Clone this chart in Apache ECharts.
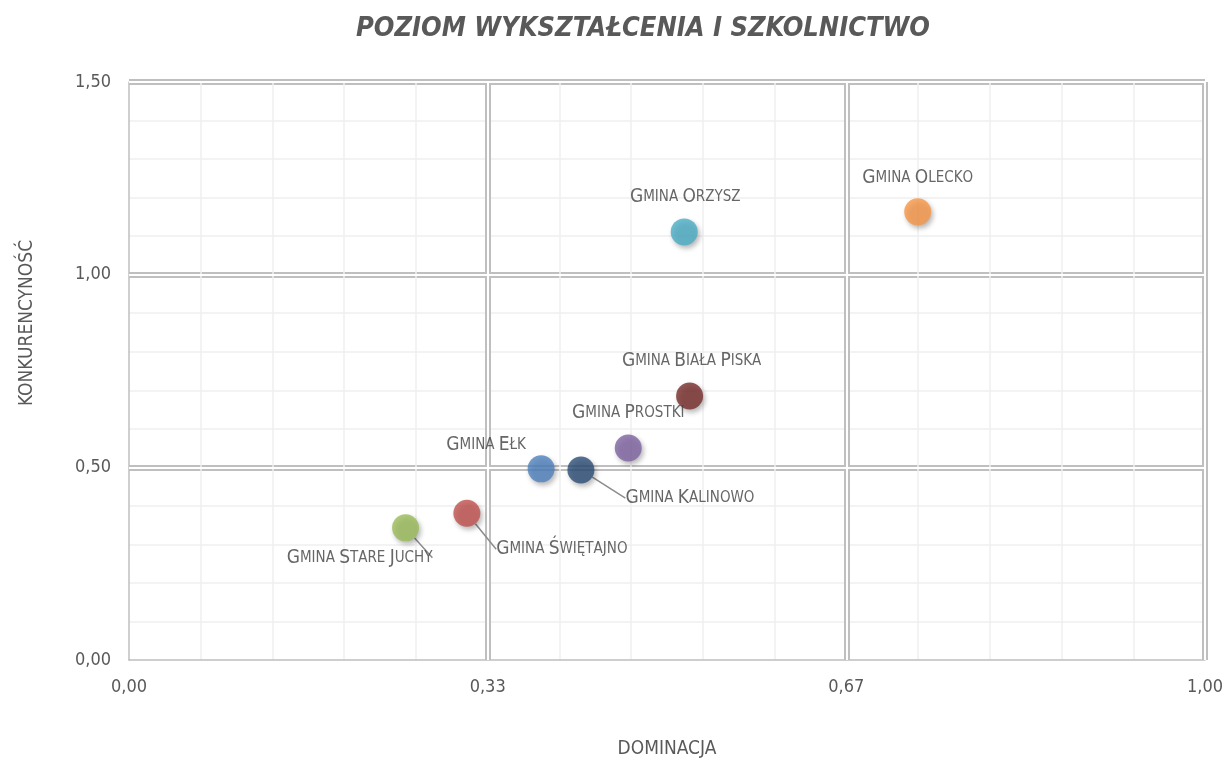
<!DOCTYPE html>
<html lang="pl">
<head>
<meta charset="UTF-8">
<title>Poziom wykształcenia i szkolnictwo</title>
<style>
    html, body { margin: 0; padding: 0; background: #fff; }
    #chart { width: 1225px; height: 761px; }
</style>
</head>
<body>
<div id="chart"></div>
<script src="https://cdn.jsdelivr.net/npm/echarts@6/dist/echarts.min.js"></script>
<script>
// dane
var gminy = ['Gmina Olecko', 'Gmina Orzysz', 'Gmina Biała Piska', 'Gmina Prostki',
             'Gmina Ełk', 'Gmina Kalinowo', 'Gmina Świętajno', 'Gmina Stare Juchy'];
var dominacja = [0.733, 0.516, 0.521, 0.464, 0.383, 0.420, 0.314, 0.257];
var konkurencyjnosc = [1.163, 1.111, 0.685, 0.550, 0.496, 0.493, 0.381, 0.343];

// wygląd
var kolory = ['#F79646', '#4BACC6', '#772C2A', '#8064A2', '#4F81BD', '#2C4D75', '#C0504D', '#9BBB59'];
var przesuniecia = [[0, -34], [1, -35], [2, -35], [0, -35], [-55, -24], [109, 28], [95, 36], [-46, 30]];
var zLinia = [false, false, false, false, false, true, true, true];

var FONT = "'Liberation Sans Narrow', 'DejaVu Sans Condensed', 'Arial Narrow', sans-serif";
var SZARY = '#595959';

function kapitaliki(txt) {
    var out = '';
    for (var i = 0; i < txt.length; i++) {
        var c = txt[i];
        if (c === ' ') { out += '{b| }'; continue; }
        if (c === c.toUpperCase()) out += '{a|' + c + '}';
        else out += '{b|' + c.toUpperCase() + '}';
    }
    return out;
}

function fmt(v) {
    return v.toFixed(2).replace('.', ',');
}

var dane = [];
for (var i = 0; i < gminy.length; i++) {
    dane.push({
        name: gminy[i],
        value: [dominacja[i], konkurencyjnosc[i]],
        itemStyle: { color: kolory[i] },
        labelLine: { show: zLinia[i] }
    });
}

var myChart = echarts.init(document.getElementById('chart'));

function osX(overlay) {
    return {
        type: 'value', min: 0, max: 1, interval: 1 / 3,
        z: overlay ? 1 : 0,
        axisLine: { show: !overlay, lineStyle: { color: '#BFBFBF', width: 1.5 } },
        axisTick: { show: false },
        axisLabel: {
            show: !overlay, margin: 18, color: SZARY, fontSize: 18, fontFamily: FONT,
            formatter: function (v) { return fmt(v); }
        },
        name: overlay ? '' : 'DOMINACJA',
        nameLocation: 'middle', nameGap: 80,
        nameTextStyle: { color: SZARY, fontSize: 19, fontFamily: FONT },
        splitLine: {
            show: true, showMinLine: false, showMaxLine: true,
            lineStyle: { color: overlay ? '#ffffff' : '#BFBFBF', width: overlay ? 2 : 6 }
        },
        minorTick: { show: !overlay, splitNumber: 5, length: 0 },
        minorSplitLine: { show: !overlay, lineStyle: { color: '#EFEFEF', width: 1.5 } }
    };
}

function osY(overlay) {
    return {
        type: 'value', min: 0, max: 1.5, interval: 0.5,
        z: overlay ? 1 : 0,
        axisLine: { show: !overlay, lineStyle: { color: '#BFBFBF', width: 1.5 } },
        axisTick: { show: false },
        axisLabel: {
            show: !overlay, margin: 18, color: SZARY, fontSize: 18, fontFamily: FONT,
            formatter: function (v) { return fmt(v); }
        },
        name: overlay ? '' : 'KONKURENCYNOŚĆ',
        nameLocation: 'middle', nameGap: 92,
        nameTextStyle: { color: SZARY, fontSize: 19, fontFamily: FONT, padding: [0, 0, 0, 96] },
        splitLine: {
            show: true, showMinLine: false, showMaxLine: true,
            lineStyle: { color: overlay ? '#ffffff' : '#BFBFBF', width: overlay ? 2 : 6 }
        },
        minorTick: { show: !overlay, splitNumber: 5, length: 0 },
        minorSplitLine: { show: !overlay, lineStyle: { color: '#EFEFEF', width: 1.5 } }
    };
}

var option = {
    animation: false,
    backgroundColor: '#ffffff',
    title: {
        text: 'POZIOM WYKSZTAŁCENIA I SZKOLNICTWO',
        left: 638, textAlign: 'center', top: 10,
        textStyle: {
            color: SZARY, fontSize: 27, fontWeight: 'bold', fontStyle: 'italic', fontFamily: FONT
        }
    },
    grid: { left: 129, right: 20, top: 82, bottom: 101, outerBoundsMode: 'none', containLabel: false },
    xAxis: [osX(false), osX(true)],
    yAxis: [osY(false), osY(true)],
    series: [{
        type: 'scatter',
        xAxisIndex: 0, yAxisIndex: 0,
        symbolSize: 27,
        z: 5,
        itemStyle: {
            shadowBlur: 5, shadowOffsetX: 2, shadowOffsetY: 3, shadowColor: 'rgba(0,0,0,0.35)'
        },
        label: {
            show: true, position: 'inside',
            formatter: function (p) { return kapitaliki(p.name); },
            rich: {
                a: { fontSize: 19, color: '#404040', fontFamily: FONT },
                b: { fontSize: 15, color: '#404040', fontFamily: FONT }
            }
        },
        labelLine: { show: false, lineStyle: { color: '#8C8C8C', width: 1.5 } },
        labelLayout: function (p) {
            var o = przesuniecia[p.dataIndex];
            return { dx: o[0], dy: o[1] };
        },
        data: dane
    }]
};

myChart.setOption(option);
</script>
</body>
</html>
